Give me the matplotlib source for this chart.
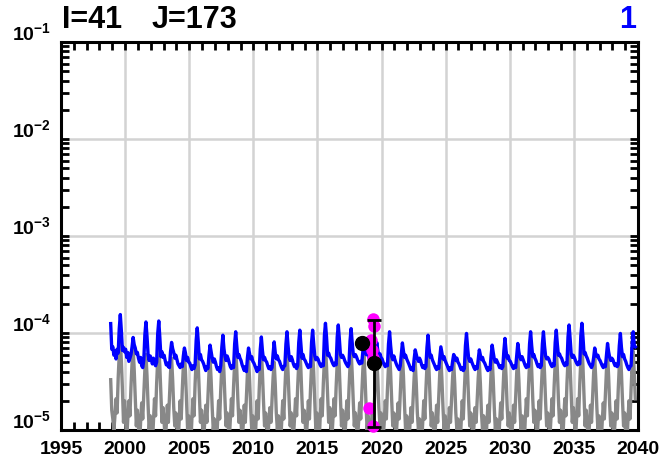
import numpy as np
import pandas as pd
import matplotlib
matplotlib.use('Agg')
import matplotlib.pyplot as plt
import matplotlib.transforms as mtransforms
from matplotlib.ticker import FixedLocator, NullFormatter

plt.rcParams['font.family'] = 'Liberation Sans'
plt.rcParams['font.weight'] = 'bold'
plt.rcParams['mathtext.fontset'] = 'custom'
plt.rcParams['mathtext.rm'] = 'Liberation Sans:bold'
plt.rcParams['mathtext.bf'] = 'Liberation Sans:bold'
plt.rcParams['mathtext.default'] = 'bf'

# monthly series, units of 1e-5, starting Nov 1998
blue_1e5 = [
    12.5, 6.8,
    7.2, 5.9, 6.6, 5.4, 6.8, 6.2, 11.0, 15.5, 10.5, 6.6, 7.1, 6.4,  # 1999
    6.8, 5.6, 6.3, 5.1, 5.5, 6.0, 7.2, 9.0, 7.6, 7.0, 6.1, 6.3,     # 2000
    5.5, 5.0, 5.6, 4.6, 4.4, 5.3, 9.6, 13.0, 9.2, 6.0, 5.2, 5.8,    # 2001
    5.4, 4.8, 5.5, 4.9, 4.6, 5.0, 9.8, 13.3, 9.0, 5.7, 6.4, 5.6,    # 2002
    5.9, 5.2, 4.7, 4.9, 4.5, 4.4, 6.4, 8.0, 6.9, 6.3, 5.5, 5.9,     # 2003
    5.3, 4.8, 4.6, 4.4, 4.8, 4.5, 5.8, 7.0, 6.2, 5.2, 5.6, 5.0,     # 2004
    4.9, 4.5, 4.2, 4.6, 4.3, 4.7, 8.4, 11.3, 8.0, 5.4, 6.0, 5.3,    # 2005
    5.1, 4.8, 4.4, 4.1, 4.5, 4.3, 5.9, 7.5, 6.4, 5.5, 5.0, 5.4,     # 2006
    5.0, 4.5, 4.2, 4.4, 4.0, 4.6, 7.1, 9.5, 6.9, 5.7, 5.2, 5.8,     # 2007
    5.4, 4.9, 4.5, 4.3, 4.6, 4.4, 7.7, 10.3, 7.4, 5.6, 6.0, 5.5,    # 2008
    5.2, 4.7, 4.4, 4.1, 4.5, 4.0, 5.6, 7.0, 6.1, 5.4, 5.7, 5.1,     # 2009
    4.9, 4.6, 4.3, 4.0, 4.4, 4.2, 6.8, 9.1, 6.6, 5.3, 5.6, 5.2,     # 2010
    5.0, 4.6, 4.3, 4.5, 4.2, 4.4, 6.1, 8.1, 6.3, 5.4, 5.8, 5.3,     # 2011
    5.1, 4.7, 4.4, 4.2, 4.5, 4.6, 7.7, 10.3, 7.4, 5.6, 5.2, 5.7,    # 2012
    5.3, 4.8, 4.5, 4.7, 4.3, 4.6, 8.0, 10.7, 7.7, 5.5, 6.0, 5.4,    # 2013
    5.2, 4.9, 4.6, 4.4, 4.7, 4.5, 8.0, 10.7, 7.7, 5.8, 5.3, 5.6,    # 2014
    5.4, 5.0, 4.7, 4.5, 4.8, 4.6, 9.4, 12.6, 9.1, 5.9, 6.2, 5.7,    # 2015
    5.5, 5.1, 4.8, 4.6, 4.9, 4.7, 9.1, 12.1, 8.7, 6.0, 5.6, 5.9,    # 2016
    5.6, 5.2, 4.9, 4.7, 4.5, 4.8, 8.3, 11.1, 8.0, 6.1, 5.7, 6.0,    # 2017
    5.7, 5.3, 5.0, 4.8, 5.1, 4.9, 6.4, 8.5, 6.9, 6.0, 6.3, 5.8,     # 2018
    5.5, 5.2, 4.9, 5.1, 4.7, 5.0, 6.2, 8.0, 6.6, 5.8, 6.1, 5.6,     # 2019
    5.4, 5.0, 4.7, 4.5, 4.8, 4.6, 7.7, 10.3, 7.4, 5.7, 5.3, 5.8,    # 2020
    5.3, 4.9, 4.6, 4.4, 4.2, 4.6, 6.0, 7.9, 6.5, 5.6, 5.9, 5.4,     # 2021
    5.1, 4.8, 4.5, 4.2, 4.4, 4.1, 5.4, 6.7, 6.0, 5.4, 5.1, 5.5,     # 2022
    5.2, 4.7, 4.4, 4.6, 4.3, 4.5, 7.1, 9.5, 6.9, 5.6, 5.9, 5.3,     # 2023
    5.0, 4.7, 4.4, 4.2, 4.5, 4.3, 5.6, 7.2, 6.2, 5.4, 5.7, 5.2,     # 2024
    4.9, 4.6, 4.3, 4.1, 4.4, 4.2, 5.1, 6.0, 5.7, 5.2, 5.5, 5.0,     # 2025
    4.8, 4.5, 4.2, 4.4, 4.1, 4.3, 7.4, 9.9, 7.1, 5.5, 5.1, 5.4,     # 2026
    5.0, 4.7, 4.4, 4.2, 4.5, 4.3, 5.4, 6.7, 5.9, 5.3, 5.6, 5.1,     # 2027
    4.9, 4.6, 4.3, 4.1, 4.4, 4.2, 5.8, 7.5, 6.3, 5.4, 5.0, 5.3,     # 2028
    5.0, 4.7, 4.4, 4.6, 4.3, 4.5, 6.6, 8.8, 6.6, 5.5, 5.8, 5.2,     # 2029
    5.1, 4.8, 4.5, 4.3, 4.6, 4.4, 5.9, 7.8, 6.4, 5.6, 5.3, 5.7,     # 2030
    5.3, 4.9, 4.6, 4.4, 4.7, 4.5, 7.7, 10.3, 7.4, 5.7, 6.0, 5.5,    # 2031
    5.2, 4.8, 4.5, 4.7, 4.4, 4.6, 7.7, 10.3, 7.4, 5.8, 5.4, 5.6,    # 2032
    5.4, 5.0, 4.7, 4.5, 4.8, 4.6, 8.0, 10.7, 7.7, 5.9, 6.1, 5.7,    # 2033
    5.5, 5.1, 4.8, 4.6, 4.9, 4.7, 9.1, 12.1, 8.7, 6.0, 5.6, 5.9,    # 2034
    5.6, 5.2, 4.9, 4.7, 5.0, 4.8, 9.4, 12.6, 9.1, 6.1, 6.3, 5.8,    # 2035
    5.5, 5.1, 4.8, 4.6, 4.4, 4.7, 5.6, 7.0, 6.1, 5.7, 5.9, 5.4,     # 2036
    5.2, 4.9, 4.6, 4.4, 4.7, 4.5, 5.9, 7.8, 6.4, 5.6, 5.2, 5.5,     # 2037
    5.3, 4.9, 4.6, 4.8, 4.5, 4.7, 7.4, 9.9, 7.1, 5.7, 6.0, 5.4,     # 2038
    5.1, 4.7, 4.4, 4.2, 4.5, 4.6, 7.7, 10.3, 7.4, 7.2,              # 2039
]

gray_1e5 = [
    3.3, 1.6,
    1.3, 1.0, 1.4, 2.1, 1.5, 3.4, 6.0, 8.5, 5.1, 2.6, 1.2, 2.0,   # 1999
    1.2, 0.8, 1.3, 2.0, 1.4, 2.8, 4.9, 7.0, 4.2, 2.1, 1.1, 1.6,   # 2000
    1.1, 0.7, 1.2, 1.9, 1.3, 2.4, 4.2, 6.0, 3.6, 1.8, 1.0, 1.4,   # 2001
    1.0, 0.7, 1.2, 2.1, 1.4, 3.0, 5.3, 7.5, 4.5, 2.3, 1.2, 1.7,   # 2002
    1.2, 0.8, 1.1, 1.8, 1.2, 2.2, 3.9, 5.5, 3.3, 1.7, 1.1, 1.5,   # 2003
    1.1, 0.7, 1.2, 2.0, 1.3, 2.6, 4.6, 6.5, 3.9, 2.0, 1.0, 1.4,   # 2004
    1.0, 0.7, 1.3, 2.1, 1.4, 3.0, 5.3, 7.5, 4.5, 2.3, 1.2, 1.6,   # 2005
    1.1, 0.8, 1.2, 1.8, 1.2, 2.2, 3.9, 5.5, 3.3, 1.7, 1.0, 1.3,   # 2006
    0.9, 0.7, 1.2, 2.0, 1.3, 2.6, 4.6, 6.5, 3.9, 2.0, 1.1, 1.5,   # 2007
    1.1, 0.8, 1.3, 2.1, 1.4, 2.8, 4.9, 7.0, 4.2, 2.1, 1.2, 1.6,   # 2008
    1.2, 0.8, 1.1, 1.8, 1.2, 2.2, 3.9, 5.5, 3.3, 1.7, 1.0, 1.4,   # 2009
    1.0, 0.7, 1.2, 2.0, 1.3, 2.6, 4.6, 6.5, 3.9, 2.0, 1.1, 1.5,   # 2010
    1.1, 0.8, 1.2, 1.7, 1.2, 2.0, 3.5, 5.0, 3.0, 1.5, 1.0, 1.4,   # 2011
    1.0, 0.7, 1.2, 2.0, 1.3, 2.6, 4.6, 6.5, 3.9, 2.0, 1.1, 1.5,   # 2012
    1.1, 0.8, 1.3, 2.1, 1.4, 2.8, 4.9, 7.0, 4.2, 2.1, 1.2, 1.6,   # 2013
    1.2, 0.8, 1.2, 2.0, 1.3, 2.6, 4.6, 6.5, 3.9, 2.0, 1.0, 1.5,   # 2014
    1.0, 0.7, 1.3, 2.1, 1.4, 3.0, 5.3, 7.5, 4.5, 2.3, 1.2, 1.7,   # 2015
    1.1, 0.8, 1.3, 2.1, 1.4, 2.8, 4.9, 7.0, 4.2, 2.1, 1.1, 1.6,   # 2016
    1.2, 0.8, 1.2, 2.0, 1.3, 2.6, 4.6, 6.5, 3.9, 2.0, 1.1, 1.5,   # 2017
    1.1, 0.8, 1.2, 1.9, 1.3, 2.4, 4.2, 6.0, 3.6, 1.8, 1.0, 1.4,   # 2018
    1.0, 0.7, 1.1, 1.8, 1.2, 2.2, 3.9, 5.5, 3.3, 1.7, 1.1, 1.5,   # 2019
    1.1, 0.8, 1.2, 2.0, 1.3, 2.6, 4.6, 6.5, 3.9, 2.0, 1.1, 1.5,   # 2020
    1.2, 0.8, 1.2, 1.9, 1.3, 2.4, 4.2, 6.0, 3.6, 1.8, 1.0, 1.4,   # 2021
    1.0, 0.7, 1.1, 1.7, 1.2, 2.0, 3.5, 5.0, 3.0, 1.5, 1.0, 1.3,   # 2022
    0.9, 0.7, 1.2, 2.0, 1.3, 2.6, 4.6, 6.5, 3.9, 2.0, 1.1, 1.5,   # 2023
    1.1, 0.8, 1.1, 1.8, 1.2, 2.2, 3.9, 5.5, 3.3, 1.7, 1.0, 1.4,   # 2024
    1.0, 0.7, 1.1, 1.7, 1.2, 2.0, 3.5, 5.0, 3.0, 1.5, 1.0, 1.3,   # 2025
    0.9, 0.7, 1.2, 2.0, 1.3, 2.6, 4.6, 6.5, 3.9, 2.0, 1.1, 1.5,   # 2026
    1.1, 0.8, 1.1, 1.7, 1.2, 2.0, 3.5, 5.0, 3.0, 1.5, 1.0, 1.4,   # 2027
    1.0, 0.7, 1.1, 1.8, 1.2, 2.2, 3.9, 5.5, 3.3, 1.7, 1.0, 1.3,   # 2028
    0.9, 0.7, 1.2, 1.9, 1.3, 2.4, 4.2, 6.0, 3.6, 1.8, 1.1, 1.5,   # 2029
    1.1, 0.8, 1.1, 1.8, 1.2, 2.2, 3.9, 5.5, 3.3, 1.7, 1.0, 1.4,   # 2030
    1.0, 0.7, 1.3, 2.1, 1.4, 2.8, 4.9, 7.0, 4.2, 2.1, 1.2, 1.6,   # 2031
    1.1, 0.8, 1.2, 2.0, 1.3, 2.6, 4.6, 6.5, 3.9, 2.0, 1.1, 1.5,   # 2032
    1.2, 0.8, 1.3, 2.1, 1.4, 2.8, 4.9, 7.0, 4.2, 2.1, 1.2, 1.6,   # 2033
    1.1, 0.7, 1.3, 2.1, 1.4, 3.0, 5.3, 7.5, 4.5, 2.3, 1.2, 1.7,   # 2034
    1.2, 0.8, 1.3, 2.1, 1.4, 3.0, 5.3, 7.5, 4.5, 2.3, 1.1, 1.6,   # 2035
    1.1, 0.8, 1.1, 1.8, 1.2, 2.2, 3.9, 5.5, 3.3, 1.7, 1.0, 1.4,   # 2036
    1.0, 0.7, 1.2, 1.9, 1.3, 2.4, 4.2, 6.0, 3.6, 1.8, 1.1, 1.5,   # 2037
    1.1, 0.8, 1.2, 2.0, 1.3, 2.6, 4.6, 6.5, 3.9, 2.0, 1.1, 1.5,   # 2038
    0.9, 0.7, 1.2, 2.0, 1.3, 2.6, 4.6, 6.5, 3.9, 2.1,             # 2039
]

# observations
obs_magenta_t = [2019.35, 2019.4, 2019.2, 2019.25, 2019.3, 2019.0, 2019.35]
obs_magenta_v = [1.39e-4, 1.17e-4, 8.5e-5, 6.7e-5, 5.5e-5, 1.7e-5, 1.1e-5]
obs_black_t = [2018.45, 2019.4]
obs_black_v = [7.9e-5, 4.9e-5]
err_low = 1.08e-5
err_high = 1.36e-4

months = pd.date_range('1998-11-01', periods=len(blue_1e5), freq='MS')
t = months.year + (months.month - 0.5) / 12.0
blue = np.array(blue_1e5) * 1e-5
gray = np.array(gray_1e5) * 1e-5

fig = plt.figure(figsize=(6.64, 4.70), dpi=100)
ax = fig.add_axes([61 / 664, 40 / 470, 577 / 664, 388 / 470])

ax.plot(t, gray, color='#888888', lw=2.4, zorder=3)
ax.plot(t, blue, color='#0000ff', lw=2.4, zorder=4)

ax.plot(obs_magenta_t, obs_magenta_v, 'o', color='#ff00ff', ms=9, mec='none', zorder=5, clip_on=False)
ax.errorbar(obs_black_t[1], obs_black_v[1],
            yerr=[[obs_black_v[1] - err_low], [err_high - obs_black_v[1]]],
            fmt='none', ecolor='black', elinewidth=2, capsize=5, capthick=2, zorder=6)
ax.plot(obs_black_t, obs_black_v, 'o', color='black', ms=10, zorder=7)

ax.set_yscale('log')
ax.set_xlim(1995, 2040)
ax.set_ylim(1e-5, 1e-1)

ax.xaxis.set_major_locator(FixedLocator(np.arange(1995, 2041, 5)))
ax.xaxis.set_minor_locator(FixedLocator(np.arange(1995, 2041, 1)))
ax.yaxis.set_major_locator(FixedLocator([1e-5, 1e-4, 1e-3, 1e-2, 1e-1]))
ax.yaxis.set_minor_locator(FixedLocator([m * 10.0 ** e for e in range(-5, -1) for m in range(2, 10)]))
ax.yaxis.set_major_formatter(NullFormatter())
ax.yaxis.set_minor_formatter(NullFormatter())

ax.grid(True, which='major', color='#d3d3d3', lw=1.8, zorder=0)
ax.set_axisbelow(True)
ax.tick_params(which='both', direction='in', top=True, right=True, width=2, length=6, color='black')
ax.tick_params(axis='x', which='major', labelsize=14, pad=8)
for s in ax.spines.values():
    s.set_linewidth(2.2)

# y labels in 10^n form, sitting slightly above their ticks
trans = mtransforms.blended_transform_factory(ax.transAxes, ax.transData)
trans = trans + mtransforms.ScaledTranslation(-10 / 100, 2 / 100, fig.dpi_scale_trans)
for e in range(-5, 0):
    ax.text(0, 10.0 ** e, '$10^{%d}$' % e, transform=trans, ha='right', va='baseline',
            fontsize=14, fontweight='bold')

fig.text(62 / 664, 1 - 28 / 470, 'I=41', fontsize=22, fontweight='bold', ha='left', va='baseline')
fig.text(152 / 664, 1 - 28 / 470, 'J=173', fontsize=22, fontweight='bold', ha='left', va='baseline')
fig.text(636 / 664, 1 - 28 / 470, '1', fontsize=22, fontweight='bold', color='#0000ff', ha='right', va='baseline')

fig.savefig('out.png', dpi=100)
